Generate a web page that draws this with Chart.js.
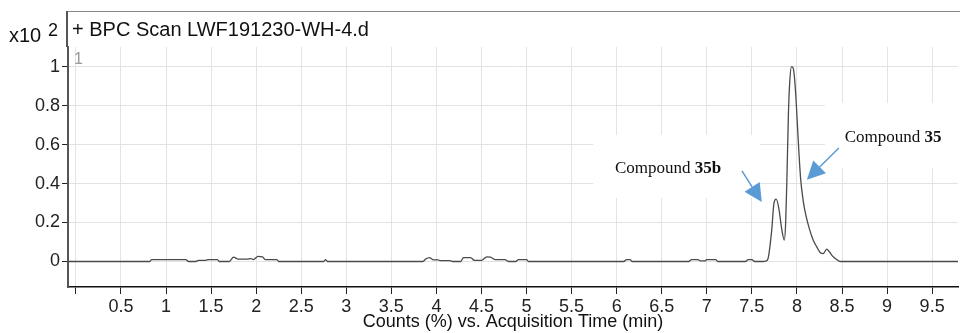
<!DOCTYPE html>
<html>
<head>
<meta charset="utf-8">
<script src="https://cdn.jsdelivr.net/npm/chart.js@4/dist/chart.umd.min.js"></script>
<style>
  body { margin: 0; background: #fff; }
</style>
</head>
<body>
<canvas id="chart" width="960" height="333"></canvas>
<script>
// acquisition time (min) and relative counts (x10^2 %)
const times = [
  -0.09, 0.82, 0.84, 1.22, 1.25, 1.33, 1.36, 1.44, 1.47, 1.57, 1.59, 1.70,
  1.75, 1.80, 1.90, 1.94, 1.97, 2.02, 2.07, 2.10, 2.23, 2.25, 2.75, 2.77, 2.79,
  3.85, 3.88, 3.92, 3.97, 4.02, 4.04, 4.15, 4.18, 4.27, 4.30, 4.38, 4.42, 4.50,
  4.56, 4.60, 4.65, 4.76, 4.80, 4.88, 4.91, 5.00, 5.02, 6.08, 6.11, 6.15, 6.17,
  6.80, 6.83, 6.90, 6.93, 6.98, 7.00, 7.10, 7.12, 7.43, 7.46, 7.50, 7.53,
  7.62, 7.66, 7.68, 7.72, 7.745, 7.77, 7.80, 7.83, 7.86, 7.875, 7.89, 7.905,
  7.92, 7.94, 7.96, 7.985, 8.01, 8.04, 8.07, 8.10, 8.14, 8.18, 8.22, 8.26,
  8.29, 8.33, 8.36, 8.39, 8.44, 8.48, 9.80
];
const counts = [
  0, 0, 0.01, 0.01, 0, 0, 0.006, 0.006, 0.01, 0.01, 0, 0,
  0.022, 0.012, 0.012, 0.015, 0.01, 0.026, 0.024, 0.01, 0.01, 0, 0, 0.01, 0,
  0, 0.012, 0.02, 0.008, 0.008, 0.004, 0.004, 0, 0, 0.02, 0.02, 0.006, 0.006,
  0.024, 0.022, 0.01, 0.01, 0, 0, 0.01, 0.01, 0, 0, 0.01, 0.01, 0,
  0, 0.01, 0.01, 0.003, 0.003, 0.01, 0.01, 0, 0, 0.01, 0.01, 0,
  0, 0.003, 0.016, 0.16, 0.30, 0.32, 0.27, 0.17, 0.11, 0.2, 0.45, 0.75,
  0.92, 1.0, 0.99, 0.87, 0.66, 0.43, 0.31, 0.235, 0.165, 0.11, 0.075, 0.045,
  0.04, 0.063, 0.05, 0.03, 0.01, 0, 0
];

const xTicks = [0, 0.5, 1, 1.5, 2, 2.5, 3, 3.5, 4, 4.5, 5, 5.5, 6, 6.5, 7, 7.5, 8, 8.5, 9, 9.5];
const yTicks = [0, 0.2, 0.4, 0.6, 0.8, 1];

const chartTitle = '+ BPC Scan LWF191230-WH-4.d';
const xTitle = 'Counts (%) vs. Acquisition Time (min)';

// callouts: box corners and arrow (from -> tip) in data units
const callouts = [
  { label: 'Compound ', bold: '35b', box: [5.74, 0.65, 7.59, 0.325], text: [5.98, 0.475],
    arrow: [7.39, 0.465, 7.61, 0.305] },
  { label: 'Compound ', bold: '35', box: [8.31, 0.814, 10.2, 0.48], text: [8.53, 0.634],
    arrow: [8.465, 0.583, 8.11, 0.42] }
];

const sans = "Arial, 'Liberation Sans', sans-serif";
const serif = "'Times New Roman', 'Liberation Serif', serif";

const extras = {
  id: 'extras',
  beforeDatasetsDraw(chart) {
    const ctx = chart.ctx, x = chart.scales.x, y = chart.scales.y;
    ctx.save();
    // white boxes behind the callout text
    ctx.fillStyle = '#fff';
    callouts.forEach(c => {
      const x0 = x.getPixelForValue(c.box[0]), y0 = y.getPixelForValue(c.box[1]);
      const x1 = x.getPixelForValue(c.box[2]), y1 = y.getPixelForValue(c.box[3]);
      ctx.fillRect(x0, y0, x1 - x0, y1 - y0);
    });
    ctx.restore();
  },
  afterDraw(chart) {
    const ctx = chart.ctx, x = chart.scales.x, y = chart.scales.y, a = chart.chartArea;
    ctx.save();
    // frame above the plot
    ctx.strokeStyle = '#888';
    ctx.lineWidth = 1;
    ctx.beginPath();
    ctx.moveTo(a.left, 11.5);
    ctx.lineTo(960, 11.5);
    ctx.stroke();
    ctx.strokeStyle = '#555';
    ctx.lineWidth = 2;
    ctx.beginPath();
    ctx.moveTo(a.left - 1, 11);
    ctx.lineTo(a.left - 1, a.top);
    ctx.stroke();

    ctx.fillStyle = '#111';
    ctx.textBaseline = 'middle';
    ctx.textAlign = 'left';
    ctx.font = '20px ' + sans;
    ctx.fillText(chartTitle, 72, 30);
    ctx.font = '20px ' + sans;
    ctx.fillText('x10', 9, 36);
    ctx.font = '18px ' + sans;
    ctx.fillText('2', 48, 31);
    ctx.fillStyle = '#999';
    ctx.font = '16px ' + sans;
    ctx.fillText('1', 74, 60);

    // callout text and arrows
    callouts.forEach(c => {
      const tx = x.getPixelForValue(c.text[0]), ty = y.getPixelForValue(c.text[1]);
      ctx.fillStyle = '#111';
      ctx.font = '17px ' + serif;
      ctx.fillText(c.label, tx, ty);
      const w = ctx.measureText(c.label).width;
      ctx.font = 'bold 17px ' + serif;
      ctx.fillText(c.bold, tx + w, ty);

      const fx = x.getPixelForValue(c.arrow[0]), fy = y.getPixelForValue(c.arrow[1]);
      const px = x.getPixelForValue(c.arrow[2]), py = y.getPixelForValue(c.arrow[3]);
      const ang = Math.atan2(py - fy, px - fx);
      const head = 18, half = 9;
      const bx = px - head * Math.cos(ang), by = py - head * Math.sin(ang);
      ctx.strokeStyle = '#5b9bd5';
      ctx.fillStyle = '#5b9bd5';
      ctx.lineWidth = 1.5;
      ctx.beginPath();
      ctx.moveTo(fx, fy);
      ctx.lineTo(bx, by);
      ctx.stroke();
      ctx.beginPath();
      ctx.moveTo(px, py);
      ctx.lineTo(bx + half * Math.sin(ang), by - half * Math.cos(ang));
      ctx.lineTo(bx - half * Math.sin(ang), by + half * Math.cos(ang));
      ctx.closePath();
      ctx.fill();
    });
    ctx.restore();
  }
};

new Chart(document.getElementById('chart'), {
  type: 'line',
  data: {
    datasets: [{
      data: times.map((t, i) => ({ x: t, y: counts[i] })),
      borderColor: '#4a4a4a',
      borderWidth: 1.3,
      pointRadius: 0,
      fill: false,
      cubicInterpolationMode: 'monotone'
    }]
  },
  options: {
    responsive: false,
    animation: false,
    layout: { padding: { top: 47, right: 2, left: 0, bottom: 0 } },
    plugins: { legend: { display: false }, tooltip: { enabled: false } },
    scales: {
      x: {
        type: 'linear',
        min: -0.0877,
        max: 9.787,
        afterBuildTicks: s => { s.ticks = xTicks.map(v => ({ value: v })); },
        afterFit: s => { s.height = 46; },
        grid: { color: '#e3e3e3', tickColor: '#222', tickLength: 7, lineWidth: 1 },
        border: { color: '#111', width: 1.5 },
        ticks: {
          color: '#222',
          font: { family: sans, size: 18 },
          padding: 2,
          maxRotation: 0,
          autoSkip: false,
          callback: v => v === 0 ? '' : String(v)
        },
        title: {
          display: true,
          text: xTitle,
          color: '#111',
          font: { family: sans, size: 18 },
          padding: 0
        }
      },
      y: {
        min: -0.131,
        max: 1.101,
        afterBuildTicks: s => { s.ticks = yTicks.map(v => ({ value: v })); },
        afterFit: s => { s.width = 68; },
        grid: { color: '#e3e3e3', tickColor: '#222', tickLength: 6, lineWidth: 1 },
        border: { color: '#555', width: 2 },
        ticks: {
          color: '#222',
          font: { family: sans, size: 18 },
          padding: 2,
          callback: v => String(v)
        }
      }
    }
  },
  plugins: [extras]
});
</script>
</body>
</html>
